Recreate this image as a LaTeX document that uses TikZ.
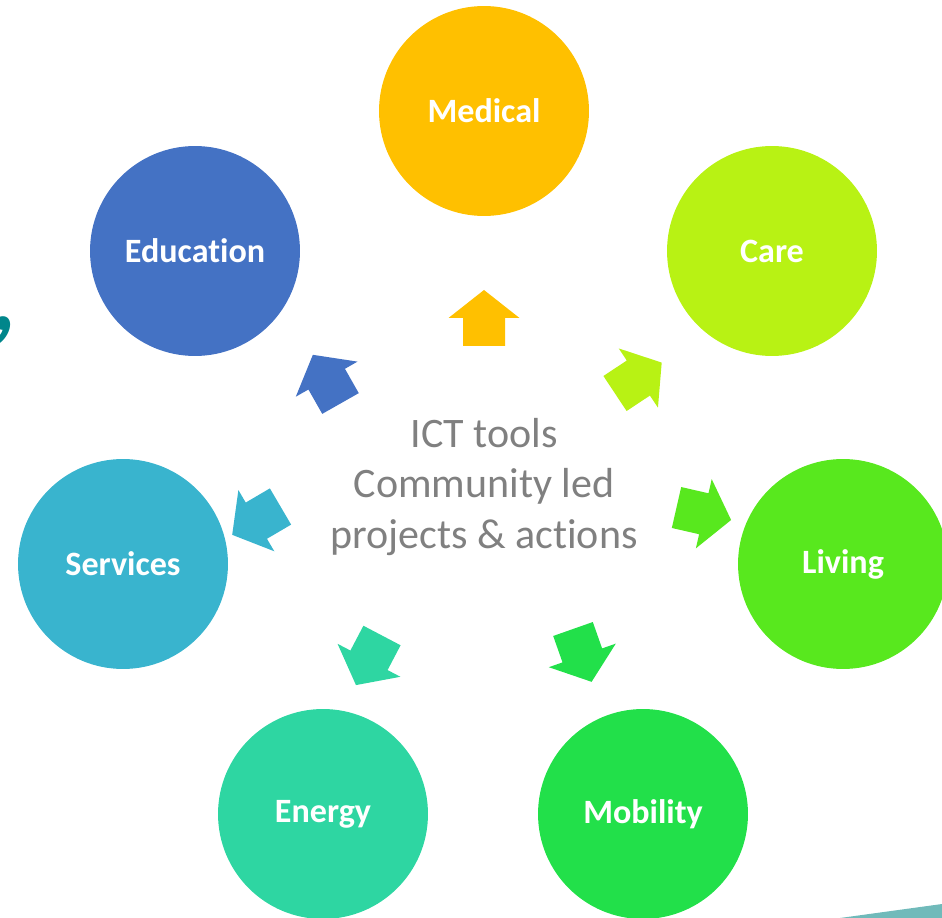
\documentclass[tikz,border=0pt]{standalone}
\usepackage{fontspec}
\setmainfont{Carlito}[Ligatures=NoCommon]
\definecolor{medicalc}{HTML}{FFC000}
\definecolor{carec}{HTML}{B8F214}
\definecolor{livingc}{HTML}{58E81E}
\definecolor{mobilityc}{HTML}{22E04A}
\definecolor{energyc}{HTML}{2ED6A2}
\definecolor{servicesc}{HTML}{39B4CE}
\definecolor{educationc}{HTML}{4472C4}
\definecolor{tealc}{HTML}{00868B}
\definecolor{wedgec}{HTML}{70BABA}
\newcommand{\blockarrow}[4]{\fill[#4, shift={(#1,#2)}, rotate=#3] (0,-21) -- (28,-21) -- (28,-35.5) -- (56,0) -- (28,35.5) -- (28,21) -- (0,21) -- cycle;}
\begin{document}
\begin{tikzpicture}[x=0.02cm, y=0.02cm,
    bubble/.style={circle, minimum size=4.2cm, inner sep=0pt, text=white, font=\fontsize{19.4}{23}\selectfont\bfseries}]
\useasboundingbox (0,0) rectangle (942,-918);
% circles
\node[bubble, fill=medicalc] (medical) at (484,-111) {Medical};
\node[bubble, fill=carec] (care) at (772,-251) {Care};
\node[bubble, fill=livingc] (living) at (843,-564) {Living};
\node[bubble, fill=mobilityc] (mobility) at (643,-814) {Mobility};
\node[bubble, fill=energyc] (energy) at (323,-814) {Energy};
\node[bubble, fill=servicesc] (services) at (123,-564) {Services};
\node[bubble, fill=educationc] (education) at (195,-251) {Education};
% arrows
\blockarrow{484}{-346}{90}{medicalc}
\blockarrow{615}{-393.5}{33.5}{carec}
\blockarrow{676.5}{-507.5}{-12.9}{livingc}
\blockarrow{573}{-629}{-70.6}{mobilityc}
\blockarrow{382}{-635.5}{-117.7}{energyc}
\blockarrow{280.5}{-506.5}{210.4}{servicesc}
\blockarrow{340.5}{-403.5}{119.6}{educationc}
% centre text
\node[align=center, text=black!50, font=\fontsize{23.9}{29}\selectfont] (hub) at (484,-487) {ICT tools\\Community led\\projects \& actions};
% edge bits
\node[anchor=east, text=tealc, inner sep=0pt, font=\fontsize{56}{60}\selectfont\bfseries\itshape] (comma) at (18,-330) {,};
\fill[wedgec] (840,-918) -- (942,-904) -- (942,-918) -- cycle;
\end{tikzpicture}
\end{document}
